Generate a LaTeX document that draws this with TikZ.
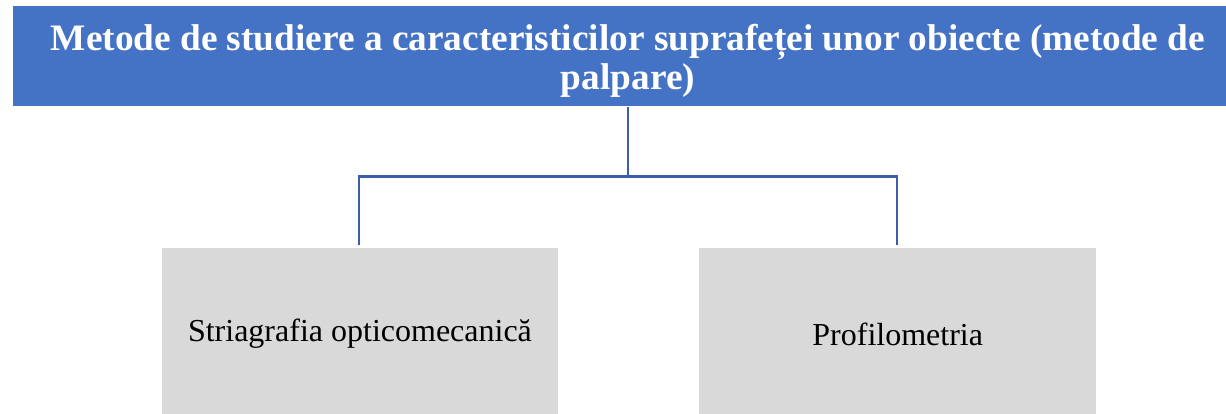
\documentclass[tikz,border=0pt]{standalone}
\usepackage{fontspec}
\setmainfont{Liberation Serif}
\definecolor{topblue}{HTML}{4472C4}
\definecolor{linkblue}{HTML}{3A5FA8}
\definecolor{boxgray}{HTML}{D9D9D9}
\begin{document}
\begin{tikzpicture}[x=1pt,y=-1pt,
  graybox/.style={fill=boxgray,draw=none,minimum height=172.5pt,anchor=north west,inner sep=0pt,
    font=\fontsize{32}{36}\selectfont},
  link/.style={draw=linkblue,line width=2.2pt}]
\useasboundingbox (0,0) rectangle (1226,414);
\clip (0,0) rectangle (1226,414);
\fill[topblue] (12.5,6.5) rectangle (1226,106);
\node[text=white,font=\fontsize{37.3}{39}\selectfont\bfseries,align=center,inner sep=0pt] (title) at (628,61)
  {Metode de studiere a caracteristicilor suprafeței unor obiecte (metode de\\palpare)};
\node[graybox,minimum width=395.5pt] (left) at (162,247.5) {Striagrafia opticomecanică};
\node[graybox,minimum width=397pt] (right) at (699,247.5) {Profilometria};
\coordinate (top) at (628,107);
\coordinate (mid) at (628,176.5);
\coordinate (lt) at (359,245);
\coordinate (rt) at (897,245);
\draw[link] (top) -- (mid);
\draw[link] (lt) |- (mid) -| (rt);
\end{tikzpicture}
\end{document}
